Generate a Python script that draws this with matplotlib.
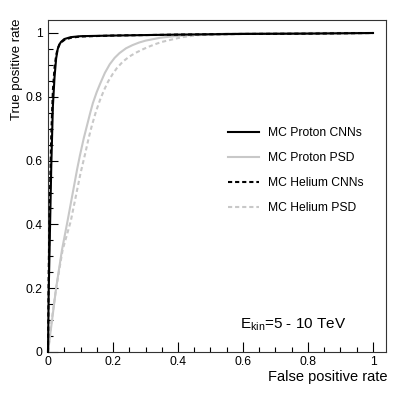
import matplotlib
matplotlib.use('Agg')
import matplotlib.pyplot as plt
from matplotlib.ticker import MultipleLocator

plt.rcParams['font.family'] = ['Liberation Sans', 'DejaVu Sans']
plt.rcParams['mathtext.fontset'] = 'custom'
plt.rcParams['mathtext.rm'] = 'Liberation Sans'
plt.rcParams['mathtext.it'] = 'Liberation Sans:italic'

# ROC curves (false positive rate, true positive rate)
proton_cnn_fpr = [0, 0.002, 0.005, 0.01, 0.015, 0.02, 0.025, 0.03, 0.035, 0.04, 0.05, 0.07, 0.1, 0.2, 0.4, 0.6, 0.8, 1.0]
proton_cnn_tpr = [0, 0.18, 0.33, 0.58, 0.77, 0.86, 0.92, 0.95, 0.964, 0.972, 0.981, 0.987, 0.99, 0.992, 0.995, 0.997, 0.998, 1.0]

helium_cnn_fpr = [0, 0.002, 0.005, 0.01, 0.015, 0.02, 0.025, 0.03, 0.035, 0.04, 0.05, 0.07, 0.1, 0.2, 0.4, 0.6, 0.8, 1.0]
helium_cnn_tpr = [0, 0.24, 0.45, 0.68, 0.82, 0.89, 0.93, 0.952, 0.963, 0.97, 0.978, 0.985, 0.989, 0.992, 0.995, 0.997, 0.998, 1.0]

proton_psd_fpr = [0, 0.01, 0.025, 0.043, 0.06, 0.07, 0.08, 0.09, 0.098, 0.11, 0.12, 0.13, 0.138, 0.15, 0.16, 0.175, 0.19,
                  0.205, 0.22, 0.24, 0.26, 0.28, 0.3, 0.32, 0.345, 0.37, 0.4, 0.446, 0.5, 0.55, 0.6, 0.7, 0.8, 0.9, 1.0]
proton_psd_tpr = [0, 0.08, 0.2, 0.32, 0.41, 0.465, 0.52, 0.575, 0.615, 0.67, 0.71, 0.75, 0.78, 0.815, 0.84, 0.875, 0.902,
                  0.922, 0.937, 0.952, 0.962, 0.97, 0.976, 0.98, 0.985, 0.988, 0.991, 0.994, 0.996, 0.998, 0.999, 0.999, 1.0, 1.0, 1.0]

helium_psd_fpr = [0, 0.01, 0.025, 0.045, 0.07, 0.08, 0.09, 0.1, 0.114, 0.125, 0.135, 0.148, 0.16, 0.172, 0.185, 0.2, 0.212,
                  0.23, 0.25, 0.27, 0.292, 0.31, 0.33, 0.35, 0.375, 0.4, 0.42, 0.458, 0.52, 0.56, 0.6, 0.7, 0.8, 0.9, 1.0]
helium_psd_tpr = [0, 0.09, 0.2, 0.32, 0.41, 0.46, 0.51, 0.56, 0.62, 0.67, 0.71, 0.755, 0.79, 0.82, 0.848, 0.873, 0.89,
                  0.91, 0.926, 0.938, 0.949, 0.957, 0.965, 0.972, 0.978, 0.984, 0.988, 0.993, 0.996, 0.998, 0.999, 0.999, 1.0, 1.0, 1.0]

labels = ['MC Proton CNNs', 'MC Proton PSD', 'MC Helium CNNs', 'MC Helium PSD']

W, H = 407, 396
fig = plt.figure(figsize=(W / 100, H / 100), dpi=100)
ax = fig.add_axes([48 / W, 1 - 352 / H, (386 - 48) / W, (352 - 20) / H])

grey = '#c8c8c8'
ax.plot(proton_cnn_fpr, proton_cnn_tpr, color='black', lw=1.5, label=labels[0], clip_on=False, zorder=4)
ax.plot(proton_psd_fpr, proton_psd_tpr, color=grey, lw=1.5, label=labels[1], clip_on=False, zorder=2)
ax.plot(helium_cnn_fpr, helium_cnn_tpr, color='black', lw=1.5, ls=(0, (2, 1.4)), label=labels[2], clip_on=False, zorder=3)
ax.plot(helium_psd_fpr, helium_psd_tpr, color=grey, lw=1.5, ls=(0, (2, 1.4)), label=labels[3], clip_on=False, zorder=2)

ax.set_xlim(0, (386 - 48) / 325)
ax.set_ylim(0, (352 - 20) / 319)

ax.xaxis.set_major_locator(MultipleLocator(0.2))
ax.xaxis.set_minor_locator(MultipleLocator(0.05))
ax.yaxis.set_major_locator(MultipleLocator(0.2))
ax.yaxis.set_minor_locator(MultipleLocator(0.05))
fmt = lambda v, p: ('%g' % round(v, 2))
ax.xaxis.set_major_formatter(plt.FuncFormatter(fmt))
ax.yaxis.set_major_formatter(plt.FuncFormatter(fmt))
ax.tick_params(which='both', direction='in', top=False, right=False, labelsize=8.7)
ax.tick_params(which='major', length=7, width=0.8)
ax.tick_params(which='minor', length=3.6, width=0.8)
ax.tick_params(axis='x', pad=3)
ax.tick_params(axis='y', pad=4)
for s in ax.spines.values():
    s.set_linewidth(0.8)
    s.set_color('#333333')

leg = ax.legend(loc='upper left', bbox_to_anchor=(228 / W, 1 - 127 / H),
                bbox_transform=fig.transFigure, frameon=False, fontsize=8.7,
                handlelength=2.6, handletextpad=0.7, labelspacing=1.08,
                borderpad=0, borderaxespad=0)

ax.text(0.59, 0.085, r'E$_{\mathrm{kin}}$=5 - 10 TeV', fontsize=11, va='center', ha='left')

fig.text(387 / W, 1 - 377 / H, 'False positive rate', ha='right', va='center', fontsize=10.5)
fig.text(17 / W, 1 - 18 / H, 'True positive rate', ha='center', va='top', rotation=90, fontsize=9.5)

fig.savefig('out.png', dpi=100)
